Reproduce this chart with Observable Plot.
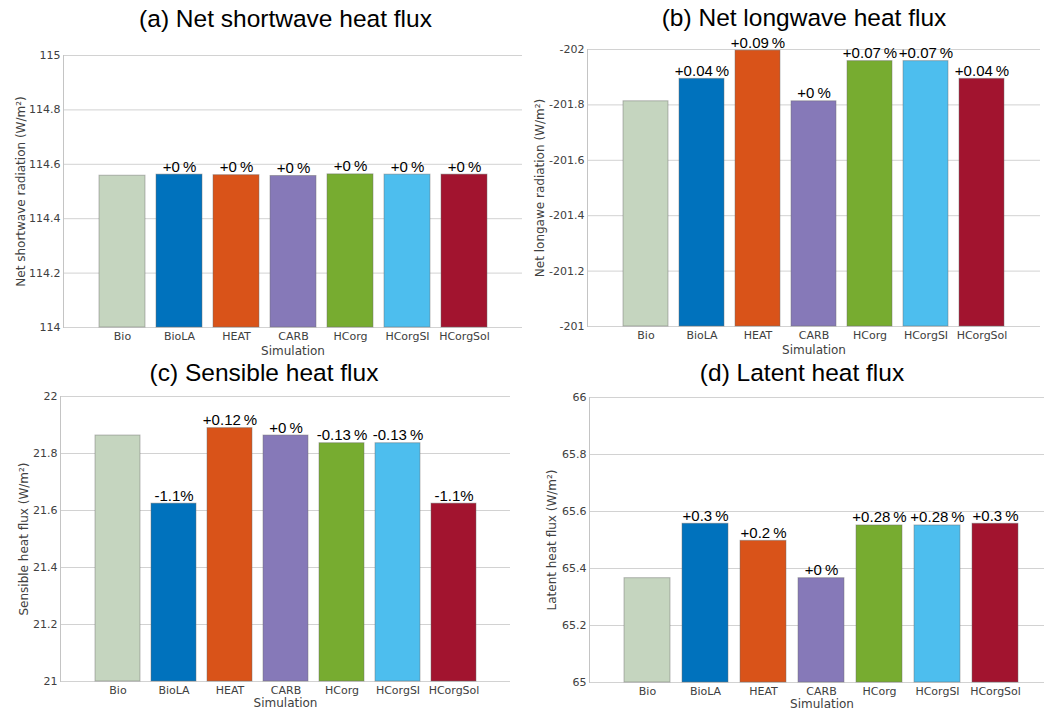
<!DOCTYPE html>
<html><head><meta charset="utf-8">
<script src="https://cdn.jsdelivr.net/npm/d3@7"></script>
<script src="https://cdn.jsdelivr.net/npm/@observablehq/plot@0.6"></script>
<style>
html,body{margin:0;padding:0;background:#fff;overflow:hidden;width:1044px;height:711px;}
#root{position:relative;width:1044px;height:711px;overflow:hidden;}
.panel{position:absolute;}
.title{position:absolute;font-family:"Liberation Sans",Arial,sans-serif;font-size:24.5px;line-height:24.5px;color:#000;white-space:nowrap;transform:translateX(-50%);}
</style></head><body><div id="root"></div>
<script>
// ---- data ----
const simulations = ["Bio","BioLA","HEAT","CARB","HCorg","HCorgSI","HCorgSol"];
const barColors = ["#c5d5bf","#0072bd","#d95319","#8679b8","#77ac30","#4dbeee","#a2142f"];

const shortwave    = [114.558,114.562,114.560,114.557,114.563,114.562,114.562];
const shortwavePct = ["","+0\u2009%","+0\u2009%","+0\u2009%","+0\u2009%","+0\u2009%","+0\u2009%"];
const longwave     = [-201.813,-201.894,-201.996,-201.813,-201.958,-201.958,-201.894];
const longwavePct  = ["","+0.04\u2009%","+0.09\u2009%","+0\u2009%","+0.07\u2009%","+0.07\u2009%","+0.04\u2009%"];
const sensible     = [21.863,21.624,21.889,21.863,21.836,21.836,21.624];
const sensiblePct  = ["","-1.1%","+0.12\u2009%","+0\u2009%","-0.13\u2009%","-0.13\u2009%","-1.1%"];
const latent       = [65.366,65.557,65.497,65.366,65.551,65.551,65.557];
const latentPct    = ["","+0.3\u2009%","+0.2\u2009%","+0\u2009%","+0.28\u2009%","+0.28\u2009%","+0.3\u2009%"];

const titles  = ["(a) Net shortwave heat flux","(b) Net longwave heat flux","(c) Sensible heat flux","(d) Latent heat flux"];
const yLabels = ["Net shortwave radiation (W/m\u00b2)","Net longawe radiation (W/m\u00b2)","Sensible heat flux (W/m\u00b2)","Latent heat flux (W/m\u00b2)"];
const yDomains = [[114,115],[-201,-202],[21,22],[65,66]];
const xLabel = "Simulation";

// ---- layout (page px) ----
const panels = [
  {vals: shortwave, pct: shortwavePct, L:63,  R:522,  T:55,  B:327, titleX:285.5, titleY:7,   labX:21,  simDy:23.5},
  {vals: longwave,  pct: longwavePct,  L:587, R:1040, T:49,  B:326, titleX:804,   titleY:6,   labX:540, simDy:23.5},
  {vals: sensible,  pct: sensiblePct,  L:60,  R:510,  T:396, B:681, titleX:264,   titleY:361, labX:24,  simDy:22},
  {vals: latent,    pct: latentPct,    L:589, R:1054, T:397, B:682, titleX:802,   titleY:361, labX:552, simDy:21.5}
];

const root = document.getElementById("root");
const fmt = d => String(+d.toFixed(2));
const mL = 60, mR = 6, mT = 32, mB = 34;

panels.forEach((p, k) => {
  const rows = simulations.map((sim, i) => ({sim, value: p.vals[i], pct: p.pct[i]}));
  const base = yDomains[k][0];
  const chart = Plot.plot({
    width: (p.R - p.L) + mL + mR,
    height: (p.B - p.T) + mT + mB,
    marginLeft: mL, marginRight: mR, marginTop: mT, marginBottom: mB,
    style: {background: "transparent", overflow: "visible", maxWidth: "none", fontFamily: "'DejaVu Sans', sans-serif", fontSize: "11px", color: "#404040"},
    x: {domain: simulations, paddingInner: 0.2, paddingOuter: 0.6, axis: null},
    y: {domain: yDomains[k], axis: null},
    color: {domain: simulations, range: barColors},
    marks: [
      Plot.gridY({ticks: 5, stroke: "#d2d2d2", strokeOpacity: 1, strokeWidth: 1}),
      Plot.frame({anchor: "left", stroke: "#c4c4c4"}),
      Plot.barY(rows, {x: "sim", y1: () => base, y2: "value", fill: "sim", stroke: "#6a6a6a", strokeOpacity: 0.45, strokeWidth: 1}),
      Plot.text(rows, {x: "sim", y: "value", text: "pct", lineAnchor: "bottom", dy: -3, fontSize: 15, fontFamily: "'Liberation Sans', Arial, sans-serif", fill: "#000"}),
      Plot.axisY({ticks: 5, tickSize: 0, tickPadding: 3, tickFormat: fmt, label: null, fontSize: 11, fill: "#404040"}),
      Plot.axisX({tickSize: 0, tickPadding: 5, label: null, fontSize: 11, fill: "#404040"}),
      Plot.text([yLabels[k]], {frameAnchor: "left", rotate: -90, dx: -(p.L - p.labX), text: d => d, fontSize: 12, fill: "#404040", lineAnchor: "middle", textAnchor: "middle"}),
      Plot.text([xLabel], {frameAnchor: "bottom", dy: p.simDy, text: d => d, fontSize: 12, fill: "#404040", lineAnchor: "middle"})
    ]
  });
  const wrap = document.createElement("div");
  wrap.className = "panel";
  wrap.style.left = (p.L - mL) + "px";
  wrap.style.top = (p.T - mT) + "px";
  wrap.appendChild(chart);
  root.appendChild(wrap);

  const t = document.createElement("div");
  t.className = "title";
  t.style.left = p.titleX + "px";
  t.style.top = p.titleY + "px";
  t.textContent = titles[k];
  root.appendChild(t);
});
</script></body></html>
